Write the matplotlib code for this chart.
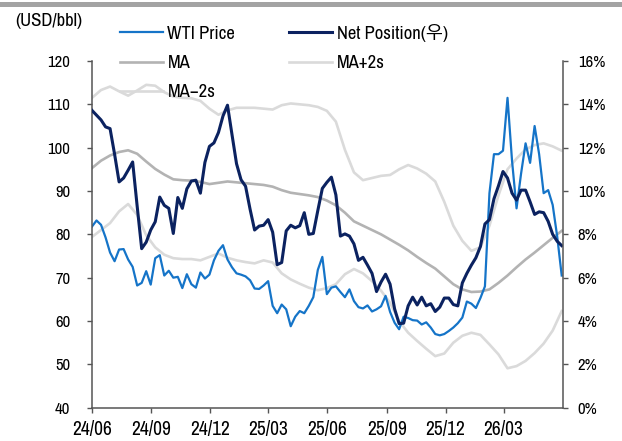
import matplotlib
matplotlib.use('Agg')
import matplotlib.pyplot as plt
import matplotlib.dates as mdates
from matplotlib.patches import Rectangle
from matplotlib.ticker import FuncFormatter
import pandas as pd

plt.rcParams['font.family'] = ['Archivo Narrow', 'Noto Sans CJK KR', 'DejaVu Sans']

# weekly series (24/06 ~ 26/06)
week_dates = pd.date_range('2024-06-01', periods=105, freq='7D')

wti_price = [
    81.8, 83.2, 82.2, 79.3, 75.8, 73.8, 76.5, 76.6, 74.2, 72.5,
    68.2, 68.8, 71.5, 68.4, 74.5, 75.2, 70.5, 71.6, 70.0, 70.2,
    67.6, 70.8, 68.5, 67.7, 71.2, 69.8, 70.7, 74.0, 76.2, 77.5,
    74.2, 72.4, 71.0, 70.7, 70.3, 69.4, 67.5, 67.4, 68.2, 69.2,
    63.5, 61.8, 63.8, 62.7, 58.8, 61.0, 62.3, 61.8, 63.5, 65.5,
    71.8, 74.8, 66.2, 67.7, 68.0, 66.7, 65.5, 67.3, 64.6, 63.2,
    62.9, 63.6, 62.2, 62.7, 63.4, 65.8, 62.1, 59.6, 58.1, 61.0,
    60.7, 60.2, 60.1, 59.2, 59.7, 58.5, 57.0, 56.7, 57.0, 57.7,
    58.5, 59.5, 60.8, 64.5, 64.0, 63.0, 65.3, 68.0, 89.5, 98.5,
    98.5, 99.3, 111.5, 97.0, 86.0, 94.0, 101.0, 96.5, 105.0, 98.5,
    89.5, 90.2, 86.8, 79.5, 70.5,
]

net_position = [
    13.72, 13.5, 13.28, 12.96, 12.88, 11.7, 10.42, 10.6, 10.96, 11.34,
    9.3, 7.34, 7.64, 8.2, 8.58, 9.72, 9.34, 9.2, 8.04, 9.7,
    9.2, 10.1, 10.46, 10.5, 9.9, 11.32, 12.06, 12.22, 12.7, 13.46,
    13.96, 12.6, 11.26, 10.52, 10.22, 9.16, 8.2, 8.38, 8.42, 8.68,
    8.1, 6.6, 6.7, 8.16, 8.42, 8.3, 8.4, 9.0, 8.0, 8.04,
    9.1, 10.12, 10.4, 10.64, 9.82, 7.92, 8.02, 7.92, 7.56, 6.8,
    6.94, 6.58, 6.2, 5.36, 5.8, 6.16, 5.7, 4.56, 3.88, 3.9,
    4.7, 5.1, 4.74, 5.1, 4.7, 4.8, 4.44, 4.64, 5.06, 5.06,
    4.76, 4.7, 5.76, 6.2, 6.58, 6.92, 7.44, 8.48, 8.68, 9.64,
    10.24, 10.9, 10.6, 9.9, 9.58, 10.04, 10.04, 9.5, 8.92, 9.04,
    9.0, 8.6, 8.0, 7.68, 7.48,
]

# bi-weekly moving average and bands (right axis, %)
ma_dates = pd.date_range('2024-06-01', periods=53, freq='14D')

ma = [
    11.06, 11.4, 11.64, 11.8, 11.88, 11.72, 11.36, 11.02, 10.76, 10.54,
    10.5, 10.48, 10.42, 10.32, 10.38, 10.44, 10.4, 10.36, 10.32, 10.28,
    10.2, 10.04, 9.92, 9.86, 9.8, 9.72, 9.56, 9.34, 9.0, 8.6,
    8.4, 8.2, 8.0, 7.76, 7.52, 7.26, 6.96, 6.68, 6.42, 6.06,
    5.7, 5.46, 5.34, 5.36, 5.46, 5.76, 6.1, 6.48, 6.84, 7.16,
    7.5, 7.84, 8.16,
]

ma_plus = [
    14.3, 14.66, 14.82, 14.6, 14.4, 14.64, 14.9, 14.86, 14.56, 14.36,
    14.3, 14.28, 14.16, 13.8, 13.52, 13.72, 13.84, 13.84, 13.84, 13.8,
    13.76, 13.96, 14.04, 14.0, 13.96, 13.88, 13.7, 13.2, 11.9, 10.86,
    10.5, 10.6, 10.7, 10.74, 11.0, 11.2, 11.04, 10.8, 10.44, 9.5,
    8.4, 7.7, 7.24, 7.4, 8.4, 9.8, 11.0, 11.5, 11.92, 12.12,
    12.2, 12.06, 11.86,
]

ma_minus = [
    7.88, 8.2, 8.52, 9.06, 9.4, 8.9, 7.96, 7.4, 7.06, 6.9,
    6.86, 6.86, 6.8, 6.96, 7.12, 6.92, 6.8, 6.72, 6.66, 6.8,
    6.7, 6.2, 5.92, 5.72, 5.54, 5.42, 5.52, 5.7, 6.16, 6.4,
    6.2, 5.84, 5.4, 4.84, 4.0, 3.46, 3.08, 2.72, 2.38, 2.5,
    3.0, 3.32, 3.46, 3.36, 2.92, 2.46, 1.82, 1.92, 2.16, 2.52,
    2.96, 3.56, 4.46,
]

tick_dates = pd.to_datetime(['2024-06-01', '2024-09-01', '2024-12-01', '2025-03-01',
                             '2025-06-01', '2025-09-01', '2025-12-01', '2026-03-01'])

c_wti = '#1574c8'
c_net = '#0b2260'
c_ma = '#b3b3b3'
c_band = '#dadada'
c_axis = '#555555'

fig = plt.figure(figsize=(6.22, 4.41), dpi=100)
ax = fig.add_axes([92 / 622, 1 - 407.7 / 441, 471 / 622, 346.7 / 441])
ax_ma = ax.twinx()
ax_net = ax.twinx()
ax_ma.set_zorder(1)
ax.set_zorder(2)
ax_net.set_zorder(3)
ax.patch.set_visible(False)
ax_net.patch.set_visible(False)

l_p2s, = ax_ma.plot(ma_dates, ma_plus, color=c_band, lw=1.9, label='MA+2s')
l_m2s, = ax_ma.plot(ma_dates, ma_minus, color=c_band, lw=1.9, label='MA\u22122s')
l_ma, = ax_ma.plot(ma_dates, ma, color=c_ma, lw=1.9, label='MA')
l_wti, = ax.plot(week_dates, wti_price, color=c_wti, lw=1.6, label='WTI Price')
l_net, = ax_net.plot(week_dates, net_position, color=c_net, lw=2.2, label='Net Position(우)')

xmin, xmax = pd.Timestamp('2024-06-01'), pd.Timestamp('2026-06-01')
for a in (ax, ax_ma, ax_net):
    a.set_xlim(xmin, xmax)
    for s in a.spines.values():
        s.set_visible(False)

ax.set_ylim(40, 120)
ax.set_yticks(range(40, 121, 10))
ax_ma.set_ylim(0, 16)
ax_net.set_ylim(0, 16)
ax_ma.set_yticks([])
ax_net.set_yticks(range(0, 17, 2))
ax_net.yaxis.set_major_formatter(FuncFormatter(lambda v, p: f'{v:.0f}%'))

ax.spines['left'].set_visible(True)
ax.spines['bottom'].set_visible(True)
ax_net.spines['right'].set_visible(True)
for s in (ax.spines['left'], ax.spines['bottom'], ax_net.spines['right']):
    s.set_color(c_axis)
    s.set_linewidth(1.1)

ax.set_xticks(tick_dates)
ax.xaxis.set_major_formatter(mdates.DateFormatter('%y/%m'))
ax.tick_params(axis='x', length=3.6, width=1.0, color=c_axis, pad=5.5, labelsize=14)
ax.tick_params(axis='y', length=3.6, width=1.0, color=c_axis, pad=12, labelsize=12)
ax_net.tick_params(axis='y', length=3.6, width=1.0, color=c_axis, pad=7, labelsize=12)

fig.text(15 / 622, 1 - 21 / 441, '(USD/bbl)', fontsize=13.5, ha='left', va='center')

fig.legend([l_wti, l_ma, l_m2s, l_net, l_p2s],
           ['WTI Price', 'MA', 'MA\u22122s', 'Net Position(우)', 'MA+2s'],
           ncol=2, frameon=False, loc='upper left',
           bbox_to_anchor=(120 / 622, 1 - 24 / 441), borderpad=0, borderaxespad=0,
           handlelength=2.3, handletextpad=0.25, columnspacing=2.9,
           labelspacing=0.7, fontsize=13.4)

fig.add_artist(Rectangle((0, 1 - 7 / 441), 1, 5 / 441, transform=fig.transFigure,
                         color='#a3a3a3', lw=0))

fig.savefig('out.png', dpi=100)
